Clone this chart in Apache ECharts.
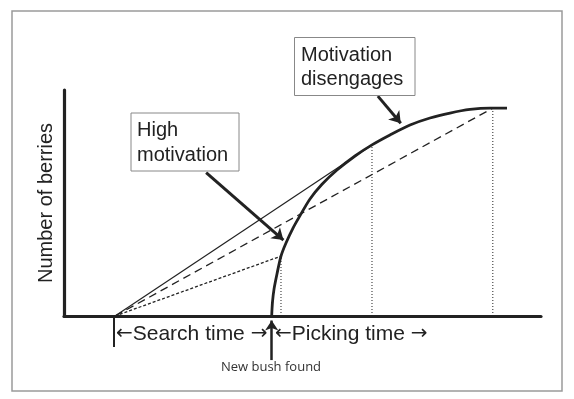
<!DOCTYPE html>
<html>
<head>
<meta charset="utf-8">
<script src="https://cdn.jsdelivr.net/npm/echarts@6/dist/echarts.min.js"></script>
<style>
html,body{margin:0;padding:0;background:#fff;}
#chart{width:574px;height:399px;}
</style>
</head>
<body>
<div id="chart"></div>
<script>
// ---- data (time units on x, berries on y) ----
const curveTime    = [43.54, 43.71, 44.03, 44.65, 45.49, 46.54, 48.01, 49.48, 51.57, 54.09, 57.23, 61.01, 64.57, 68.34, 72.54, 76.73, 80.92, 85.12, 89.31, 92.87];
const curveBerries = [0,     6.2,   11.9,  18.6,  26.5,  32.3,  38.9,  44.4,  51.8,  58.3,  64.6,  70.8,  75.7,  80.1,  84.5,  87.6,  89.8,  91.4,  92.0,  92.0];
const searchStart = 10.7;               // time the search begins
const bushFound = 43.54;                // time the new bush is found
const leaveTimes   = [45.49, 64.57, 89.9];  // candidate leaving times
const leaveBerries = [26.5, 75.7, 92.0];    // berries at those times
const yAxisTitle = 'Number of berries';
const labels = {
  high: ['High', 'motivation'],
  diseng: ['Motivation', 'disengages'],
  search: 'Search time',
  picking: 'Picking time',
  bush: 'New bush found'
};
// annotation arrows [from, to] in data space
const arrowHigh   = [[29.8, 63.4], [46.0, 33.6]];
const arrowDiseng = [[65.8, 97.3], [70.6, 85.3]];
const arrowBush   = [[bushFound, -19.5], [bushFound, -2.0]];
const searchTick  = [[searchStart - 0.3, 0], [searchStart - 0.3, -13.7]];

const curveData = curveTime.map((t, i) => [t, curveBerries[i]]);
const ink = '#222';
const mainFont = '"Liberation Sans", Arial, sans-serif';

const chart = echarts.init(document.getElementById('chart'));
const lineStyles = [
  {width: 1.2, type: 'solid'},
  {width: 1.3, type: [8, 5]},
  {width: 1.3, type: [3, 2]}
];
const raySeries = [0, 1, 2].map(k => {
  const idx = [1, 2, 0][k];
  return {
    type: 'line', silent: true, symbol: 'none', animation: false,
    data: [[searchStart, 0], [leaveTimes[idx], leaveBerries[idx]]],
    lineStyle: Object.assign({color: ink}, lineStyles[k])
  };
});
const vertSeries = leaveTimes.map((t, i) => ({
  type: 'line', silent: true, symbol: 'none', animation: false,
  data: [[t, 0], [t, leaveBerries[i]]],
  lineStyle: {color: ink, width: 1, type: [1, 2]}
}));
function arrowSeries(pts, w, size) {
  return {
    type: 'lines', coordinateSystem: 'cartesian2d', silent: true, animation: false,
    clip: false, symbol: ['none', 'arrow'], symbolSize: size,
    lineStyle: {color: ink, width: w, opacity: 1},
    data: [{coords: pts}]
  };
}
const richArrows = {
  a: {fontFamily: 'DejaVu Sans', fontSize: 20, fill: ink, color: ink},
  t: {fontFamily: mainFont, fontSize: 21, fill: ink, color: ink}
};

chart.setOption({
  animation: false,
  backgroundColor: '#fff',
  grid: {left: 64, right: 33, top: 90, bottom: 83},
  xAxis: {
    type: 'value', min: 0, max: 100,
    axisLine: {show: true, lineStyle: {color: ink, width: 3.2}},
    axisTick: {show: false}, axisLabel: {show: false}, splitLine: {show: false}
  },
  yAxis: {
    type: 'value', min: 0, max: 100,
    name: yAxisTitle, nameLocation: 'middle', nameRotate: 90, nameGap: 8,
    nameTextStyle: {color: ink, fontSize: 20, fontFamily: mainFont},
    axisLine: {show: true, lineStyle: {color: ink, width: 3.2}},
    axisTick: {show: false}, axisLabel: {show: false}, splitLine: {show: false}
  },
  series: [
    ...vertSeries,
    ...raySeries,
    {
      type: 'line', silent: true, symbol: 'none', animation: false,
      smooth: 0.3,
      data: curveData,
      lineStyle: {color: ink, width: 2.8}
    },
    arrowSeries(arrowHigh, 3, [0, 11]),
    arrowSeries(arrowDiseng, 3, [0, 11]),
    arrowSeries(arrowBush, 2.5, [0, 10]),
    {
      type: 'lines', coordinateSystem: 'cartesian2d', silent: true, animation: false, clip: false,
      symbol: 'none', lineStyle: {color: ink, width: 2, opacity: 1},
      data: [{coords: searchTick}]
    }
  ],
  graphic: [
    {type: 'rect', shape: {x: 12, y: 11, width: 550, height: 380},
     style: {fill: 'none', stroke: '#9a9a9a', lineWidth: 1.5}, z: 0},
    {type: 'rect', shape: {x: 131, y: 113, width: 108, height: 58},
     style: {fill: '#fff', stroke: '#888', lineWidth: 1}, z: 10},
    {type: 'text', x: 137, y: 130, z: 11,
     style: {text: labels.high[0], font: '20px ' + mainFont, fill: ink, verticalAlign: 'middle'}},
    {type: 'text', x: 137, y: 155, z: 11,
     style: {text: labels.high[1], font: '20px ' + mainFont, fill: ink, verticalAlign: 'middle'}},
    {type: 'rect', shape: {x: 294.5, y: 37.5, width: 120.5, height: 58},
     style: {fill: '#fff', stroke: '#888', lineWidth: 1}, z: 10},
    {type: 'text', x: 301, y: 55, z: 11,
     style: {text: labels.diseng[0], font: '20px ' + mainFont, fill: ink, verticalAlign: 'middle'}},
    {type: 'text', x: 301, y: 79, z: 11,
     style: {text: labels.diseng[1], font: '20px ' + mainFont, fill: ink, verticalAlign: 'middle'}},
    {type: 'text', x: 116, y: 334, z: 11,
     style: {text: '{a|\u2190}{t|' + labels.search + ' }{a|\u2192}', rich: richArrows, verticalAlign: 'middle'}},
    {type: 'text', x: 275, y: 334, z: 11,
     style: {text: '{a|\u2190}{t|' + labels.picking + ' }{a|\u2192}', rich: richArrows, verticalAlign: 'middle'}},
    {type: 'text', x: 271, y: 367, z: 11,
     style: {text: labels.bush, font: '13px "Open Sans", sans-serif', fill: '#333', align: 'center', verticalAlign: 'middle'}}
  ]
});
</script>
</body>
</html>
